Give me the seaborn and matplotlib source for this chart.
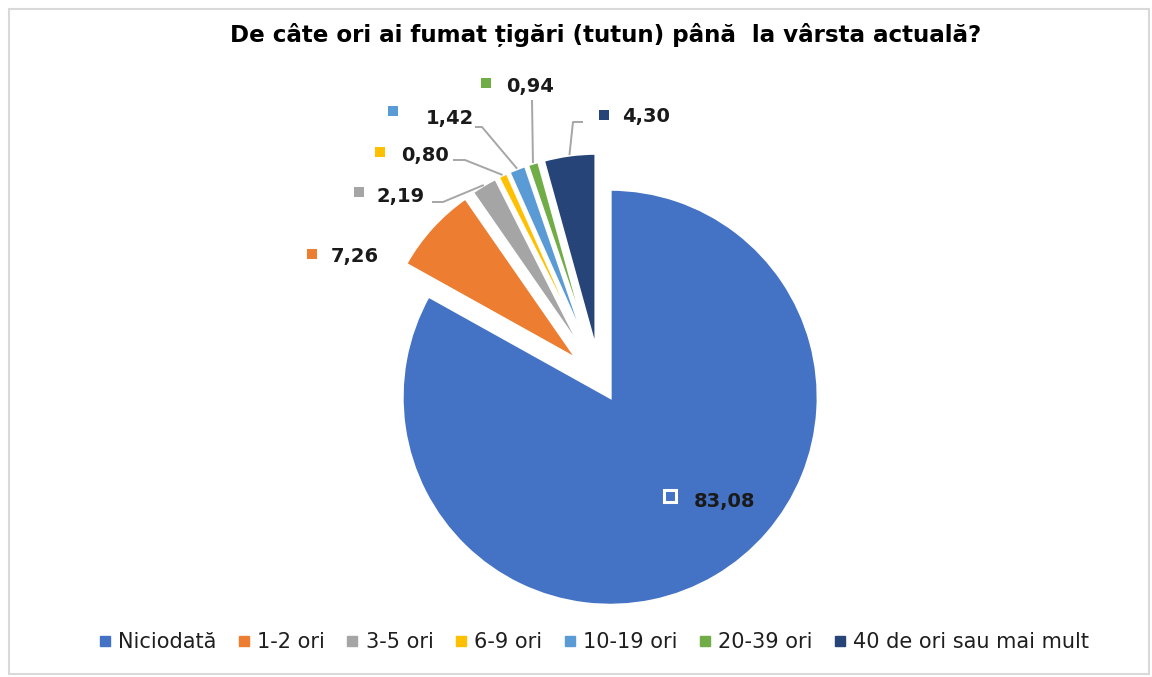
import numpy as np
import matplotlib
matplotlib.use("Agg")
import matplotlib.pyplot as plt
from matplotlib.lines import Line2D
from matplotlib.patches import Rectangle
import seaborn as sns

# 데이터
categories = ["Niciodată", "1-2 ori", "3-5 ori", "6-9 ori", "10-19 ori", "20-39 ori",
              "40 de ori sau mai mult"]
values = [83.08, 7.26, 2.19, 0.80, 1.42, 0.94, 4.30]
colors = ["#4472C4", "#ED7D31", "#A5A5A5", "#FFC000", "#5B9BD5", "#70AD47", "#264478"]
title = "De câte ori ai fumat țigări (tutun) până  la vârsta actuală?"

sns.set_theme(style="white")
plt.rcParams["font.family"] = ["DejaVu Sans"]
palette = sns.color_palette(colors)

W, H = 1152, 677
fig = plt.figure(figsize=(W / 100, H / 100), dpi=100)
ax = fig.add_axes([0, 0, 1, 1])

# 파이 (화면 기준 12시 방향에서 시계방향), explode 값은 픽셀 단위
explode = [20] + [30] * (len(values) - 1)
wedges, _ = ax.pie(values, colors=palette, startangle=270, counterclock=True,
                   explode=explode, radius=200, center=(600, 380),
                   wedgeprops=dict(edgecolor="white", linewidth=2.2))
wedges[0].set_radius(208)
for w in wedges[1:]:
    w.set_radius(197)

ax.set_xlim(0, W)
ax.set_ylim(H, 0)
ax.set_aspect("equal")
ax.axis("off")

# 라벨 위치 (키 중심, 텍스트 시작 x, 텍스트 기준선 y)
key_pos = [(670, 496), (312, 254), (359, 192), (380, 152), (393, 111), (486, 83), (604, 115)]
text_pos = [(694, 507), (331, 262), (377, 202), (401, 161), (426, 124), (506, 92), (622, 122)]
leader = {2: [(432, 202), (443, 202)], 3: [(453, 160), (465, 160)],
          4: [(475, 127), (482, 127)], 5: [(532, 100)], 6: [(583, 122), (573, 122)]}

txt_color = "#1a1a1a"
for i, v in enumerate(values):
    lab = f"{v:.2f}".replace(".", ",")
    kx, ky = key_pos[i]
    if i == 0:
        ax.plot(kx, ky, marker="s", ms=9, mfc=colors[i], mec="white", mew=2.2)
    else:
        ax.plot(kx, ky, marker="s", ms=7.5, color=colors[i], mew=0)
    tx, ty = text_pos[i]
    ax.text(tx, ty, lab, ha="left", va="baseline", fontsize=14, fontweight="bold",
            color=txt_color)
    if i in leader:
        w = wedges[i]
        mid = np.deg2rad((w.theta1 + w.theta2) / 2)
        cx, cy = w.center
        px, py = cx + w.r * np.cos(mid), cy + w.r * np.sin(mid)
        pts = leader[i] + [(px, py)]
        ax.plot([p[0] for p in pts], [p[1] for p in pts], color="#A6A6A6", lw=1.4,
                solid_capstyle="butt")

fig.text(606 / W, 1 - 42 / H, title, ha="center", va="baseline", fontsize=16.6,
         fontweight="bold", color="black")

handles = [Line2D([], [], marker="s", ls="", color=c, markersize=6.5) for c in colors]
fig.legend(handles, categories, loc="center", bbox_to_anchor=(593 / W, 1 - 642 / H),
           ncol=7, frameon=False, fontsize=15, handletextpad=0.25, columnspacing=0.9,
           handlelength=0.8, labelcolor="#1f1f1f")

fig.patches.append(Rectangle((9 / W, 1 - 674 / H), 1140 / W, 665 / H,
                             transform=fig.transFigure, fill=False,
                             edgecolor="#d9d9d9", lw=1.5))

fig.savefig("out.png", dpi=100)
plt.close()
